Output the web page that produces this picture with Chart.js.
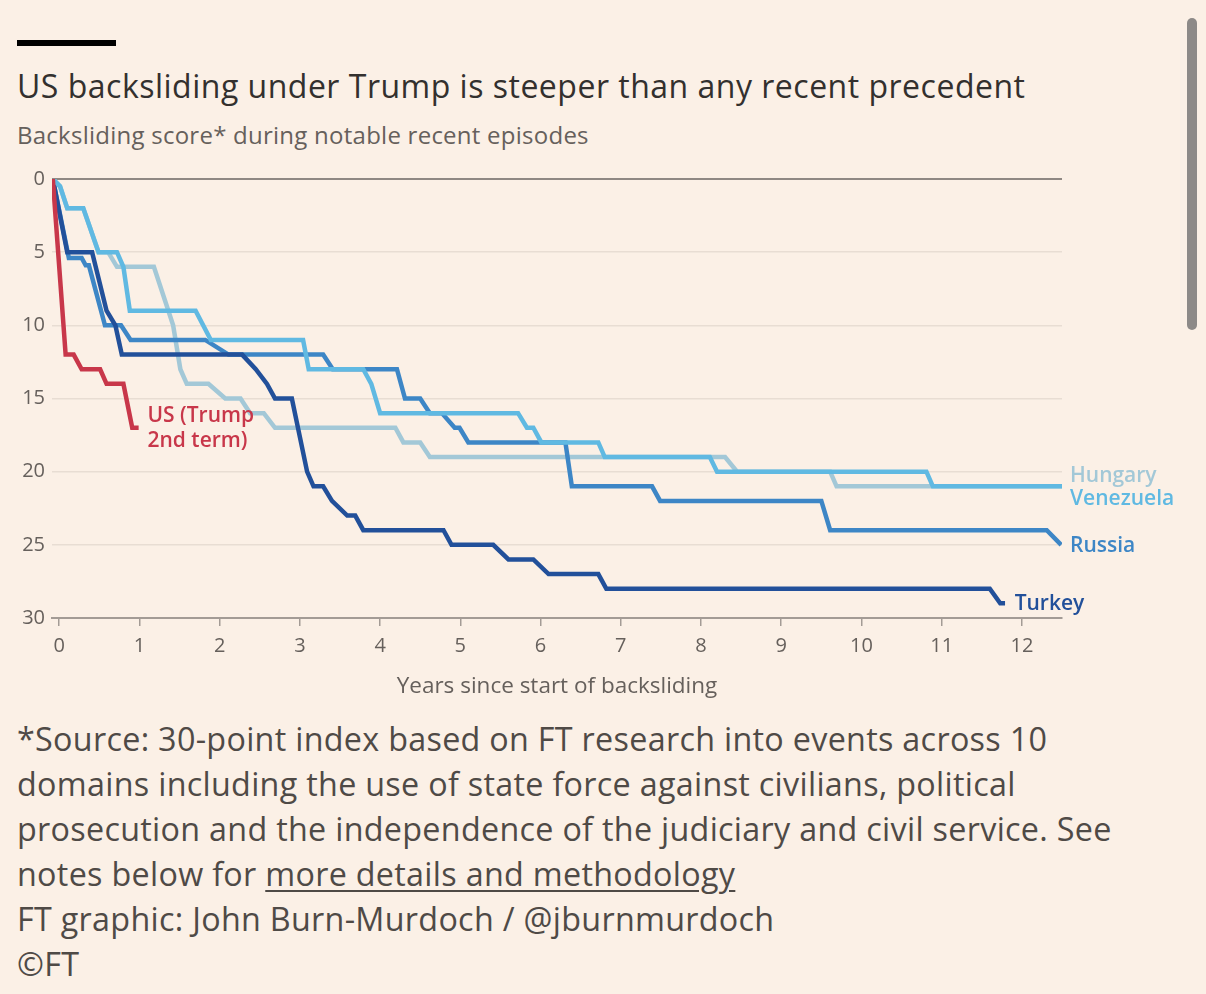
<!DOCTYPE html>
<html>
<head>
<meta charset="utf-8">
<script src="https://cdn.jsdelivr.net/npm/chart.js@4.4.1/dist/chart.umd.min.js"></script>
<style>
	body { margin: 0; background: #fbf0e6; width: 1206px; height: 994px; overflow: hidden; position: relative; font-family: "Open Sans", sans-serif; }
	#bar { position: absolute; left: 17px; top: 40px; width: 99px; height: 6px; background: #000; }
	#title { position: absolute; left: 17px; top: 65px; font-size: 32px; letter-spacing: 0.5px; line-height: 42px; color: #33302e; white-space: nowrap; }
	#sub { position: absolute; left: 17px; top: 121px; font-size: 24px; letter-spacing: 0.25px; line-height: 28px; color: #66605c; white-space: nowrap; }
	#box { position: absolute; left: 0; top: 160px; width: 1206px; height: 540px; }
	#foot { position: absolute; left: 17px; top: 716px; font-size: 32.3px; letter-spacing: 0.3px; line-height: 45px; color: #4f4a46; white-space: nowrap; }
	#foot u { text-decoration-thickness: 2px; text-underline-offset: 4px; }
	#scroll { position: absolute; left: 1187px; top: 18px; width: 10px; height: 312px; border-radius: 5px; background: #8d8a88; }
</style>
</head>
<body>
<div id="bar"></div>
<div id="title">US backsliding under Trump is steeper than any recent precedent</div>
<div id="sub">Backsliding score* during notable recent episodes</div>
<div id="box"><canvas id="bchart"></canvas></div>
<div id="foot">*Source: 30-point index based on FT research into events across 10<br>domains including the use of state force against civilians, political<br>prosecution and the independence of the judiciary and civil service. See<br>notes below for <u>more details and methodology</u><br>FT graphic: John Burn-Murdoch / @jburnmurdoch<br>©FT</div>
<div id="scroll"></div>
<script>
//=========== data (years since start, score) ===========
const usYears = [-0.08, 0.08, 0.18, 0.28, 0.51, 0.59, 0.80, 0.91, 0.99];
const usScore = [0, 12, 12, 13, 13, 14, 14, 17, 17];

const turkeyYears = [-0.08, 0.10, 0.41, 0.59, 0.70, 0.78, 2.28, 2.45, 2.59, 2.69, 2.90, 3.09, 3.17, 3.29, 3.40, 3.59, 3.69, 3.79, 4.79, 4.89, 5.41, 5.60, 5.91, 6.10, 6.72, 6.82, 11.60, 11.73, 11.79];
const turkeyScore = [0, 5, 5, 9, 10, 12, 12, 13, 14, 15, 15, 20, 21, 21, 22, 23, 23, 24, 24, 25, 25, 26, 26, 27, 27, 28, 28, 29, 29];

const russiaYears = [-0.08, 0.12, 0.28, 0.33, 0.37, 0.57, 0.77, 0.89, 1.82, 2.11, 3.29, 3.41, 4.21, 4.31, 4.50, 4.62, 4.77, 4.93, 4.99, 5.10, 6.31, 6.39, 7.39, 7.49, 9.50, 9.61, 12.31, 12.49];
const russiaScore = [0, 5.4, 5.4, 5.9, 5.9, 10, 10, 11, 11, 12, 12, 13, 13, 15, 15, 16, 16, 17, 17, 18, 18, 21, 21, 22, 22, 24, 24, 25];

const venezuelaYears = [-0.08, 0.01, 0.10, 0.30, 0.49, 0.72, 0.80, 0.88, 1.70, 1.89, 3.04, 3.11, 3.79, 3.89, 4.00, 5.72, 5.83, 5.91, 6.01, 6.72, 6.80, 8.11, 8.20, 10.81, 10.89, 12.5];
const venezuelaScore = [0, 0.5, 2, 2, 5, 5, 6, 9, 9, 11, 11, 13, 13, 14, 16, 16, 17, 17, 18, 18, 19, 19, 20, 20, 21, 21];

const hungaryYears = [-0.08, 0.01, 0.10, 0.30, 0.49, 0.61, 0.72, 1.18, 1.30, 1.42, 1.51, 1.59, 1.86, 2.07, 2.26, 2.38, 2.55, 2.69, 4.19, 4.29, 4.50, 4.62, 8.30, 8.45, 9.61, 9.69, 12.5];
const hungaryScore = [0, 0.5, 2, 2, 5, 5, 6, 6, 8, 10, 13, 14, 14, 15, 15, 16, 16, 17, 17, 18, 18, 19, 19, 20, 20, 21, 21];

const xTicks = [0, 1, 2, 3, 4, 5, 6, 7, 8, 9, 10, 11, 12];
const yTicks = [0, 5, 10, 15, 20, 25, 30];
//==========================================================================

const usColor = '#c8374a';
const turkeyColor = '#22509a';
const russiaColor = '#3d86c6';
const venezuelaColor = '#60b9e2';
const hungaryColor = '#a3c8d7';
const tickColor = '#66605c';
const fontName = '"Open Sans", sans-serif';

function pts(xs, ys) {
	return xs.map((v, i) => ({ x: v, y: ys[i] }));
}

function line(label, xs, ys, color) {
	return {
		label: label,
		data: pts(xs, ys),
		borderColor: color,
		borderWidth: 4.5,
		pointRadius: 0,
		tension: 0,
		fill: false,
	};
}

// text labels next to the lines, in data units
const lineLabels = [
	{ text: 'US (Trump', x: 1.10, y: 16.2, color: usColor },
	{ text: '2nd term)', x: 1.10, y: 17.9, color: usColor },
	{ text: 'Hungary', x: 12.6, y: 20.3, color: hungaryColor },
	{ text: 'Venezuela', x: 12.6, y: 21.9, color: venezuelaColor },
	{ text: 'Russia', x: 12.6, y: 25.1, color: russiaColor },
	{ text: 'Turkey', x: 11.91, y: 29.05, color: turkeyColor },
];

const labelPlugin = {
	id: 'lineLabels',
	afterDatasetsDraw(chart) {
		const c = chart.ctx;
		const sx = chart.scales.x, sy = chart.scales.y;
		c.save();
		c.font = '600 21px ' + fontName;
		c.textAlign = 'left';
		c.textBaseline = 'middle';
		lineLabels.forEach(l => {
			c.fillStyle = l.color;
			c.fillText(l.text, sx.getPixelForValue(l.x), sy.getPixelForValue(l.y));
		});
		c.restore();
	}
};

const ctx = document.getElementById('bchart').getContext('2d');
const bChart = new Chart(ctx, {
	type: 'line',
	data: {
		datasets: [
			line('US (Trump 2nd term)', usYears, usScore, usColor),
			line('Venezuela', venezuelaYears, venezuelaScore, venezuelaColor),
			line('Turkey', turkeyYears, turkeyScore, turkeyColor),
			line('Russia', russiaYears, russiaScore, russiaColor),
			line('Hungary', hungaryYears, hungaryScore, hungaryColor),
		]
	},
	options: {
		responsive: true,
		maintainAspectRatio: false,
		animation: false,
		layout: { padding: { top: 18, right: 144, left: 0, bottom: 0 } },
		plugins: {
			legend: { display: false },
			tooltip: { enabled: false },
		},
		scales: {
			x: {
				type: 'linear',
				min: -0.09,
				max: 12.5,
				afterBuildTicks: s => { s.ticks = xTicks.map(v => ({ value: v })); },
				afterFit: s => { s.height = 82; },
				grid: { drawOnChartArea: false, drawTicks: true, tickLength: 8, color: '#a39b95', lineWidth: 1.5 },
				border: { display: true, color: '#a39b95', width: 2 },
				ticks: { color: tickColor, font: { family: fontName, size: 20 }, padding: 8, maxRotation: 0 },
				title: {
					display: true,
					text: 'Years since start of backsliding',
					color: tickColor,
					font: { family: fontName, size: 22.5 },
					padding: { top: 0, bottom: 0 }
				}
			},
			y: {
				reverse: true,
				min: 0,
				max: 30,
				afterBuildTicks: s => { s.ticks = yTicks.map(v => ({ value: v })); },
				afterFit: s => { s.width = 52; },
				grid: {
					drawTicks: false,
					color: c => c.tick.value === 0 ? '#8f8883' : (c.tick.value === 30 ? '#a39b95' : '#e8ddd3'),
					lineWidth: c => c.tick.value === 0 ? 2 : 1.5,
				},
				border: { display: false },
				ticks: { color: tickColor, font: { family: fontName, size: 20 }, padding: 7 }
			}
		}
	},
	plugins: [labelPlugin]
});
</script>
</body>
</html>
